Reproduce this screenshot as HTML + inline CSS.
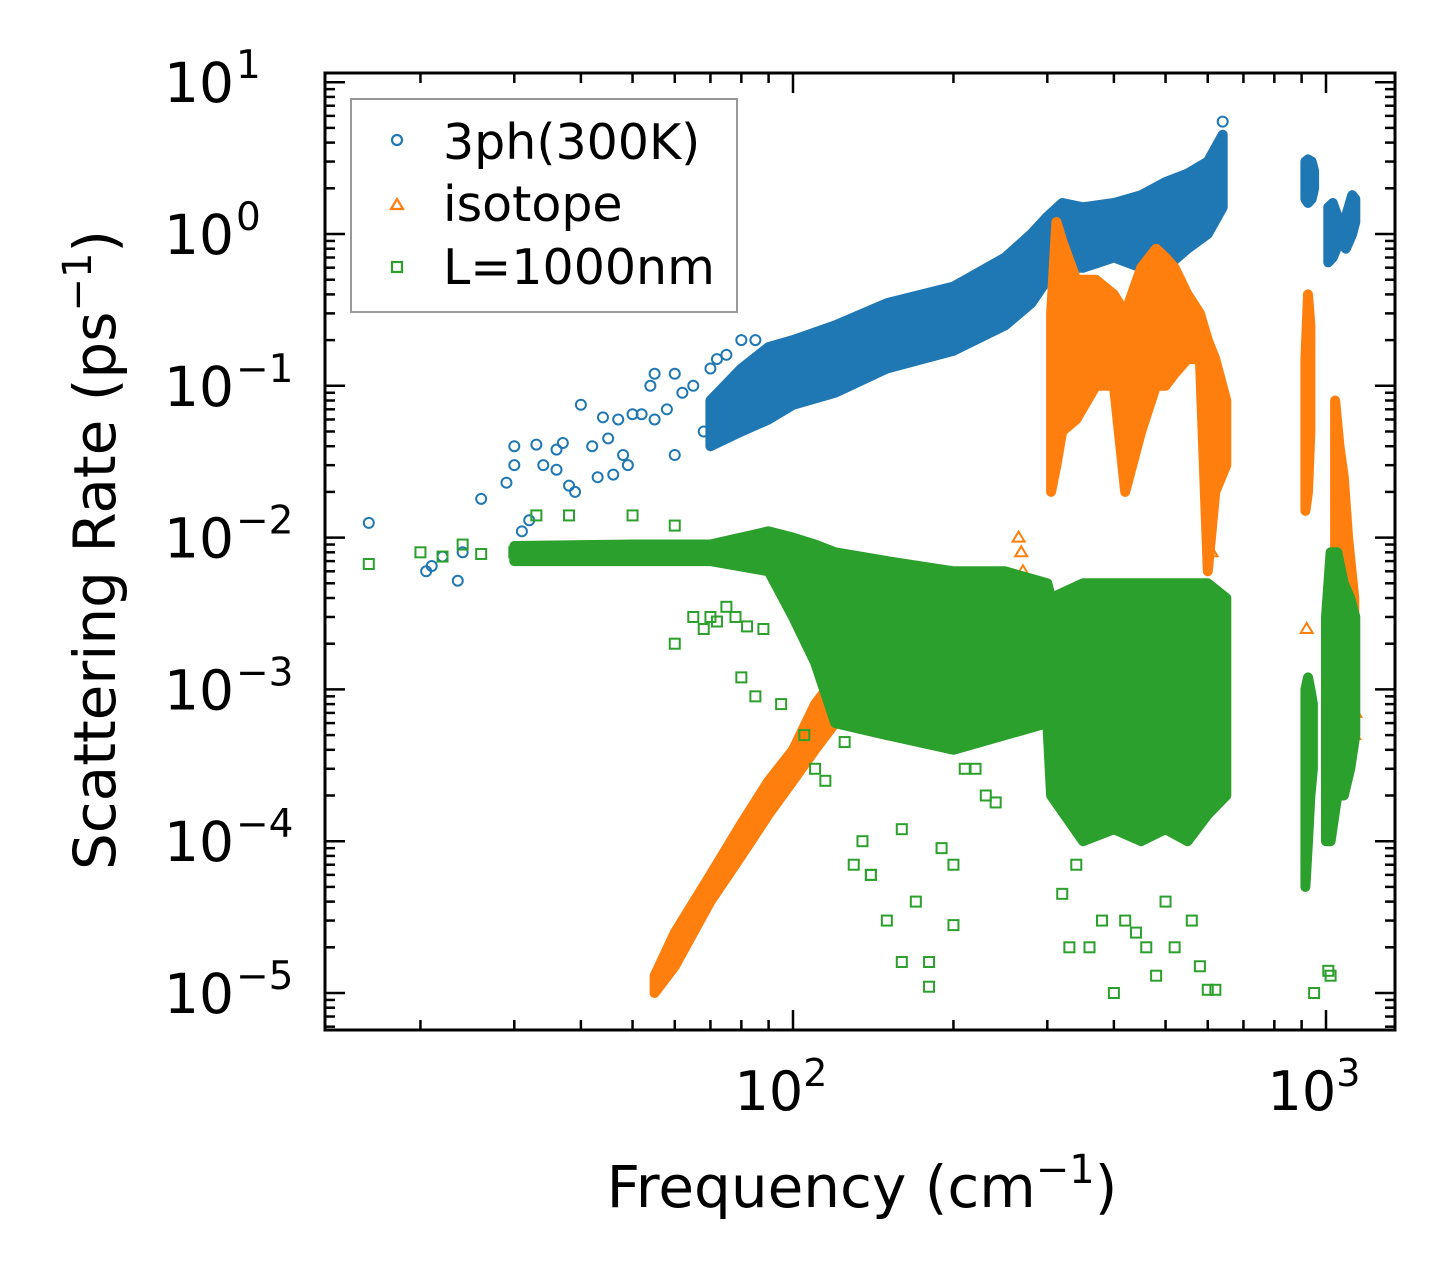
<!DOCTYPE html>
<html><head><meta charset="utf-8">
<style>
html,body{margin:0;padding:0;background:#fff;}
svg{display:block;font-family:"DejaVu Sans","Liberation Sans",sans-serif;}
</style></head>
<body>
<svg id="chart" width="1455" height="1280" viewBox="0 0 1455 1280" xmlns="http://www.w3.org/2000/svg">
<rect width="1455" height="1280" fill="#fff"/>
<g id="marks"></g>
<g id="axes"></g>
<text x="862" y="1207" font-size="58" text-anchor="middle">Frequency (cm<tspan dy="-24" font-size="40">−1</tspan><tspan dy="24">)</tspan></text>
<text transform="translate(115,550) rotate(-90)" font-size="58" text-anchor="middle">Scattering Rate (ps<tspan dy="-24" font-size="40">−1</tspan><tspan dy="24">)</tspan></text>
<g>
<rect x="351" y="99" width="386" height="213" fill="#fff" stroke="#999" stroke-width="2"/>
<circle cx="397" cy="140" r="5" fill="none" stroke="#1f77b4" stroke-width="2.2"/>
<text x="443" y="159" font-size="49">3ph(300K)</text>
<polygon points="397,199 403,209 391,209" fill="none" stroke="#ff7f0e" stroke-width="2.2"/>
<text x="443" y="221" font-size="49">isotope</text>
<rect x="392" y="262" width="10" height="10" fill="none" stroke="#2ca02c" stroke-width="2.2"/>
<text x="443" y="284" font-size="49">L=1000nm</text>
</g>
</svg>
<script>
// ---- data ----
const blueBandF  = [70,80,90,100,120,150,200,250,280,300,320,350,400,450,500,550,600,640];
const blueBandLo = [0.04,0.05,0.06,0.075,0.09,0.13,0.17,0.25,0.35,0.5,0.6,0.6,0.7,0.6,0.6,0.8,1.0,1.5];
const blueBandHi = [0.08,0.13,0.18,0.2,0.25,0.35,0.45,0.7,1.0,1.3,1.6,1.5,1.6,1.8,2.2,2.5,3.0,4.5];
const blueBand2F = [915,925,940,950];
const blueBand2Lo= [1.7,1.6,1.7,2.0];
const blueBand2Hi= [3.0,3.1,3.0,2.6];
const blueBand3F = [1010,1030,1060,1090,1120,1135];
const blueBand3Lo= [0.65,0.7,0.9,0.8,1.0,1.2];
const blueBand3Hi= [1.5,1.6,1.2,1.3,1.8,1.7];
const blueF = [16,20.5,21,22,23.5,24,26,29,30,30,31,32,33,34,36,36,37,38,39,40,42,43,44,45,46,47,48,49,50,52,54,55,58,60,62,65,68,70,72,75,80,85,60,55,640];
const blueV = [0.0125,0.006,0.0065,0.0075,0.0052,0.008,0.018,0.023,0.04,0.03,0.011,0.013,0.041,0.03,0.038,0.028,0.042,0.022,0.02,0.075,0.04,0.025,0.062,0.045,0.026,0.06,0.035,0.03,0.065,0.065,0.1,0.12,0.07,0.035,0.09,0.1,0.05,0.13,0.15,0.16,0.2,0.2,0.12,0.06,5.5];

const orBandF  = [55,60,70,80,90,100,110,120,130];
const orBandLo = [1.0e-5,1.5e-5,4e-5,8e-5,1.5e-4,2.5e-4,4e-4,6e-4,8e-4];
const orBandHi = [1.3e-5,2.5e-5,6e-5,1.3e-4,2.5e-4,4e-4,8e-4,1.2e-3,1.5e-3];
const orBand2F = [305,312,320,340,370,400,420,450,480,500,520,550,580,600,620,650];
const orBand2Lo= [0.02,0.03,0.05,0.06,0.1,0.1,0.02,0.05,0.1,0.1,0.12,0.15,0.15,0.006,0.02,0.03];
const orBand2Hi= [0.3,1.2,0.9,0.5,0.5,0.4,0.3,0.6,0.8,0.7,0.6,0.4,0.3,0.2,0.15,0.08];
const orBand3F = [915,925,935];
const orBand3Lo= [0.015,0.02,0.05];
const orBand3Hi= [0.15,0.4,0.25];
const orBand4F = [1040,1060,1080,1100,1130];
const orBand4Lo= [0.008,0.005,0.003,0.002,0.001];
const orBand4Hi= [0.08,0.04,0.025,0.01,0.004];
const orF = [265,268,270,280,290,300,1130,1135,600,610,305,920];
const orV = [0.01,0.008,0.006,0.002,0.0015,0.001,0.0005,0.0007,0.004,0.008,0.0012,0.0025];

const grBandF  = [30,50,70,90,100,110,120,150,200,250,300,305,350,400,450,500,550,600,650];
const grBandLo = [0.007,0.007,0.007,0.006,0.003,0.0015,0.0006,0.0005,0.0004,0.0005,0.0006,0.0002,0.0001,0.00012,0.0001,0.00012,0.0001,0.00015,0.0002];
const grBandHi = [0.0088,0.009,0.009,0.011,0.01,0.009,0.008,0.007,0.006,0.006,0.005,0.004,0.005,0.005,0.005,0.005,0.005,0.005,0.004];
const grBand2F = [915,925,935,945];
const grBand2Lo= [5e-5,0.0001,0.0002,0.0003];
const grBand2Hi= [0.001,0.0012,0.001,0.0008];
const grBand3F = [1000,1020,1050,1080,1110,1135];
const grBand3Lo= [0.0001,0.0001,0.0002,0.0002,0.0003,0.0005];
const grBand3Hi= [0.003,0.008,0.008,0.005,0.004,0.003];
const grF = [16,20,22,24,26,30,33,36,38,40,45,50,55,60,65,70,75,80,85,60,68,72,78,82,88,95,105,110,115,125,130,135,140,150,160,170,180,190,200,210,220,230,240,140,160,180,200,320,330,340,360,380,400,420,440,460,480,500,520,560,580,600,620,950,1010,1020];
const grV = [0.0067,0.008,0.0075,0.009,0.0078,0.008,0.014,0.008,0.014,0.0085,0.0085,0.014,0.008,0.002,0.003,0.003,0.0035,0.0012,0.0009,0.012,0.0025,0.0028,0.003,0.0026,0.0025,0.0008,0.0005,0.0003,0.00025,0.00045,0.00007,0.0001,0.00006,0.00003,0.000016,0.00004,0.000016,0.00009,0.000028,0.0003,0.0003,0.0002,0.00018,0.00006,0.00012,0.000011,0.00007,0.000045,0.00002,0.00007,0.00002,0.00003,0.00001,0.00003,0.000025,0.00002,0.000013,0.00004,0.00002,0.00003,0.000015,0.0000105,0.0000105,0.00001,0.000014,0.000013];

// ---- axes functions ----
const X0=325,X1=1395,Y0=73,Y1=1030;
const xDec=533, xRef=793;
const yDec=151.8, yRef=234;
function xs(f){return xRef+(Math.log10(f)-2)*xDec;}
function ys(v){return yRef-Math.log10(v)*yDec;}

const NS="http://www.w3.org/2000/svg";
const marks=document.getElementById('marks');
const axes=document.getElementById('axes');
function mk(tag,attrs,parent){const e=document.createElementNS(NS,tag);for(const k in attrs)e.setAttribute(k,attrs[k]);parent.appendChild(e);return e;}

const clip=mk('clipPath',{id:'cp'},marks);
mk('rect',{x:X0,y:Y0,width:X1-X0,height:Y1-Y0},clip);
const g=mk('g',{'clip-path':'url(#cp)'},marks);

function band(F,Lo,Hi,color,name){
  let pts=[];
  for(let i=0;i<F.length;i++)pts.push(xs(F[i]).toFixed(1)+','+ys(Hi[i]).toFixed(1));
  for(let i=F.length-1;i>=0;i--)pts.push(xs(F[i]).toFixed(1)+','+ys(Lo[i]).toFixed(1));
  const p=mk('polygon',{points:pts.join(' '),fill:color,stroke:color,'stroke-width':10,'stroke-linejoin':'round'},g);
  
  
}
function pts(F,V,shape,color,name){
  for(let i=0;i<F.length;i++){
    const x=xs(F[i]),y=ys(V[i]);let e;
    if(shape==='c')e=mk('circle',{cx:x,cy:y,r:5,fill:'none',stroke:color,'stroke-width':2},g);
    else if(shape==='t')e=mk('polygon',{points:`${x},${y-6} ${x+6},${y+4} ${x-6},${y+4}`,fill:'none',stroke:color,'stroke-width':2},g);
    else e=mk('rect',{x:x-5,y:y-5,width:10,height:10,fill:'none',stroke:color,'stroke-width':2},g);
    
    
  }
}
const B='#1f77b4',O='#ff7f0e',G='#2ca02c';
band(blueBandF,blueBandLo,blueBandHi,B,'3ph-band');
band(blueBand2F,blueBand2Lo,blueBand2Hi,B,'3ph-band-high');
band(blueBand3F,blueBand3Lo,blueBand3Hi,B,'3ph-band-top');
pts(blueF,blueV,'c',B,'3ph-point');
band(orBandF,orBandLo,orBandHi,O,'isotope-band-low');
band(orBand2F,orBand2Lo,orBand2Hi,O,'isotope-band-mid');
band(orBand3F,orBand3Lo,orBand3Hi,O,'isotope-band-high');
band(orBand4F,orBand4Lo,orBand4Hi,O,'isotope-band-top');
pts(orF,orV,'t',O,'isotope-point');
band(grBandF,grBandLo,grBandHi,G,'boundary-band');
band(grBand2F,grBand2Lo,grBand2Hi,G,'boundary-band-high');
band(grBand3F,grBand3Lo,grBand3Hi,G,'boundary-band-top');
pts(grF,grV,'s',G,'boundary-point');

// ---- axes drawing ----
const frame=mk('rect',{x:X0,y:Y0,width:X1-X0,height:Y1-Y0,fill:'none',stroke:'#000','stroke-width':3},axes);


const xTickLabels=['10','10'];
const xTickExp=['2','3'];
const xTickVals=[100,1000];
const yTickVals=[10,1,0.1,0.01,0.001,0.0001,0.00001];
const yTickExp=['1','0','−1','−2','−3','−4','−5'];
for(let d=1;d<=3;d++)for(let m=1;m<=9;m++){
  const f=m*Math.pow(10,d);const x=xs(f);if(x<X0||x>X1)continue;
  const L=m===1?20:10;
  mk('line',{x1:x,y1:Y1,x2:x,y2:Y1-L,stroke:'#000','stroke-width':2.5},axes);
  mk('line',{x1:x,y1:Y0,x2:x,y2:Y0+L,stroke:'#000','stroke-width':2.5},axes);
}
for(let d=-6;d<=1;d++)for(let m=1;m<=9;m++){
  const v=m*Math.pow(10,d);const y=ys(v);if(y<Y0||y>Y1)continue;
  const L=m===1?20:10;
  mk('line',{x1:X0,y1:y,x2:X0+L,y2:y,stroke:'#000','stroke-width':2.5},axes);
  mk('line',{x1:X1,y1:y,x2:X1-L,y2:y,stroke:'#000','stroke-width':2.5},axes);
}
xTickVals.forEach((v,i)=>{
  const t=mk('text',{x:xs(v)-12,y:1110,'font-size':54,'text-anchor':'middle'},axes);
  t.textContent=xTickLabels[i];
  const s=mk('tspan',{dy:-24,'font-size':38},t);s.textContent=xTickExp[i];
  
  
});
yTickVals.forEach((v,i)=>{
  const t=mk('text',{x:234,y:ys(v)+20,'font-size':55,'text-anchor':'end'},axes);
  t.textContent='10';
  
  
  const s=mk('text',{x:236,y:ys(v)-4,'font-size':39,'text-anchor':'start'},axes);
  s.textContent=yTickExp[i];
  
  
});
</script>
</body></html>
